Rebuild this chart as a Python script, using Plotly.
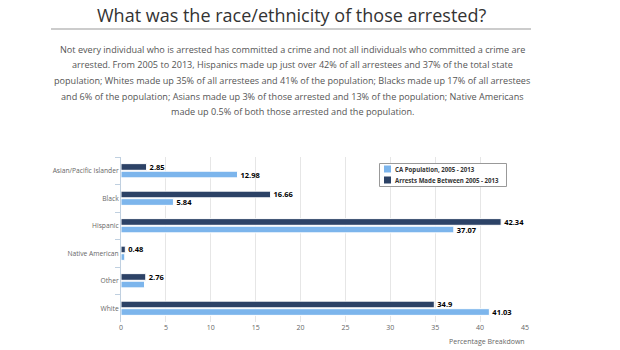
import plotly.graph_objects as go

categories = ["Asian/Pacific Islander", "Black", "Hispanic", "Native American", "Other", "White"]
arrests = [2.85, 16.66, 42.34, 0.48, 2.76, 34.9]
population = [12.98, 5.84, 37.07, 0.42, 2.62, 41.03]
arrests_labels = ["2.85", "16.66", "42.34", "0.48", "2.76", "34.9"]
population_labels = ["12.98", "5.84", "37.07", "", "", "41.03"]
x_ticks = [0, 5, 10, 15, 20, 25, 30, 35, 40, 45]
series_names = ["CA Population, 2005 - 2013", "Arrests Made Between 2005 - 2013"]

title = "What was the race/ethnicity of those arrested?"
para_lines = [
    "Not every individual who is arrested has committed a crime and not all individuals who committed a crime are",
    "arrested. From 2005 to 2013, Hispanics made up just over 42% of all arrestees and 37% of the total state",
    "population; Whites made up 35% of all arrestees and 41% of the population; Blacks made up 17% of all arrestees",
    "and 6% of the population; Asians made up 3% of those arrested and 13% of the population; Native Americans",
    "made up 0.5% of both those arrested and the population.",
]

DARK = "#2c4266"
LIGHT = "#7cb5ec"

W, H = 620, 350
L, R, T, B = 121, 95, 157, 28
PW = W - L - R
PH = H - T - B


def px_x(p):
    return (p - L) / PW


def px_y(p):
    return (H - B - p) / PH


fig = go.Figure()
fig.add_trace(go.Bar(
    y=categories, x=arrests, orientation="h", name=series_names[1],
    marker=dict(color=DARK, line=dict(color="white", width=1)),
    text=arrests_labels, textposition="outside", constraintext="none", cliponaxis=False,
    textfont=dict(family="Open Sans", size=7.5, color="#000", weight="bold"),
    showlegend=False,
))
fig.add_trace(go.Bar(
    y=categories, x=population, orientation="h", name=series_names[0],
    marker=dict(color=LIGHT, line=dict(color="white", width=1)),
    text=population_labels, textposition="outside", constraintext="none", cliponaxis=False,
    textfont=dict(family="Open Sans", size=7.5, color="#000", weight="bold"),
    showlegend=False,
))

annotations = [
    dict(text=title, x=px_x(291), y=px_y(14.5), xref="paper", yref="paper",
         xanchor="center", yanchor="middle", showarrow=False,
         font=dict(family="Open Sans", size=18, color="#333")),
    dict(text="Percentage Breakdown", x=px_x(527), y=px_y(341), xref="paper", yref="paper",
         xanchor="right", yanchor="middle", showarrow=False,
         font=dict(family="Open Sans", size=7, color="#666")),
]
for i, line in enumerate(para_lines):
    annotations.append(dict(
        text=line, x=px_x(292), y=px_y(49 + i * 15.7), xref="paper", yref="paper",
        xanchor="center", yanchor="middle", showarrow=False,
        font=dict(family="Open Sans", size=9.1, color="#555")))

shapes = [dict(type="line", xref="paper", yref="paper",
               x0=px_x(51), x1=px_x(531), y0=px_y(29), y1=px_y(29),
               line=dict(color="#999", width=1))]

# custom legend
shapes.append(dict(type="rect", xref="paper", yref="paper",
                   x0=px_x(379.5), x1=px_x(506.5), y0=px_y(163.5), y1=px_y(186.5),
                   line=dict(color="#999", width=1), fillcolor="white", layer="above"))
for i, (name, col) in enumerate(zip(series_names, [LIGHT, DARK])):
    yc = 169 + i * 11
    shapes.append(dict(type="rect", xref="paper", yref="paper",
                       x0=px_x(384), x1=px_x(391), y0=px_y(yc - 3.5), y1=px_y(yc + 3.5),
                       line=dict(width=0), fillcolor=col, layer="above"))
    annotations.append(dict(text=name, x=px_x(393), y=px_y(yc), xref="paper", yref="paper",
                            xanchor="left", yanchor="middle", showarrow=False,
                            font=dict(family="Open Sans", size=6.1, color="#333", weight="bold")))

fig.update_layout(
    width=W, height=H,
    margin=dict(l=L, r=R, t=T, b=B, pad=0),
    paper_bgcolor="white", plot_bgcolor="white",
    barmode="group", bargap=0.45, bargroupgap=0.12,
    font=dict(family="Open Sans", color="#666"),
    annotations=annotations,
    shapes=shapes,
    showlegend=False,
    xaxis=dict(range=[0, 45], tickvals=x_ticks, showgrid=True, gridcolor="#e6e6e6",
               zeroline=False, showline=False, ticks="",
               tickfont=dict(size=7, color="#666")),
    yaxis=dict(autorange="reversed", showline=True, linecolor="#c0d0e0", linewidth=1,
               ticks="outside", tickson="boundaries", ticklen=5, tickcolor="#c0d0e0",
               showgrid=False, tickfont=dict(size=6.7, color="#666")),
)

fig.write_html("out.html")
